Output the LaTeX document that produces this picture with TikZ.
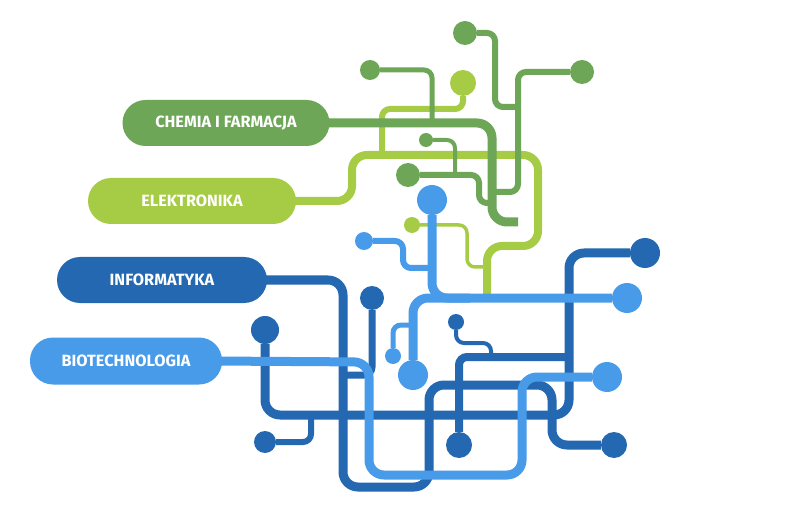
\documentclass[tikz,border=0pt]{standalone}
\usepackage{fontspec}
\setmainfont{Fira Sans}
\usetikzlibrary{positioning}
\definecolor{chemgreen}{HTML}{6DA656}
\definecolor{elekgreen}{HTML}{A6CB44}
\definecolor{infoblue}{HTML}{2468B2}
\definecolor{bioblue}{HTML}{479BE8}

\tikzset{
    field/.style={fill=#1, text=white, rounded corners=23pt,
        minimum height=46pt, inner sep=0pt,
        font=\fontsize{16.3}{16.3}\selectfont\bfseries},
    blob/.style={circle, fill=#1, inner sep=0pt},
    wire/.style={draw=#1, line width=9pt, rounded corners=15pt},
    fine/.style={line width=#1, rounded corners=8pt}
}

\begin{document}
\begin{tikzpicture}[x=1pt, y=-1pt]
    \useasboundingbox[fill=white] (0,0) rectangle (800,529);

    % fields
    \node[field=chemgreen, minimum width=207pt] (chem) at (226,123) {CHEMIA I FARMACJA};
    \node[field=elekgreen, minimum width=208pt] (elek) at (192,201) {ELEKTRONIKA};
    \node[field=infoblue, minimum width=210pt] (info) at (162,280) {INFORMATYKA};
    \node[field=bioblue, minimum width=192pt, minimum height=47pt] (bio) at (126,361) {BIOTECHNOLOGIA};

    % end points
    \node[blob=chemgreen, minimum size=20pt] (g1) at (370,70) {};
    \node[blob=chemgreen, minimum size=24pt] (g2) at (465,33) {};
    \node[blob=chemgreen, minimum size=24pt] (g3) at (582,72) {};
    \node[blob=chemgreen, minimum size=14pt] (g4) at (426,140) {};
    \node[blob=chemgreen, minimum size=24pt] (g5) at (408,175) {};
    \node[blob=elekgreen, minimum size=26pt] (l1) at (463,83) {};
    \node[blob=elekgreen, minimum size=16pt] (l2) at (412,225) {};
    \node[blob=infoblue, minimum size=24pt] (d1) at (372,298) {};
    \node[blob=infoblue, minimum size=28pt] (d2) at (265,330) {};
    \node[blob=infoblue, minimum size=22pt] (d3) at (265,442) {};
    \node[blob=infoblue, minimum size=26pt] (d4) at (459,445) {};
    \node[blob=infoblue, minimum size=16pt] (d5) at (456,322) {};
    \node[blob=infoblue, minimum size=30pt] (d6) at (645,253) {};
    \node[blob=infoblue, minimum size=26pt] (d7) at (614,445) {};
    \node[blob=bioblue, minimum size=30pt] (b1) at (432,200) {};
    \node[blob=bioblue, minimum size=18pt] (b2) at (364,241) {};
    \node[blob=bioblue, minimum size=16pt] (b3) at (393,356) {};
    \node[blob=bioblue, minimum size=30pt] (b4) at (413,375) {};
    \node[blob=bioblue, minimum size=30pt] (b5) at (627,298) {};
    \node[blob=bioblue, minimum size=30pt] (b6) at (607,377) {};

    % elektronika
    \draw[wire=elekgreen, line width=8pt] ([xshift=-10pt]elek.east) -- (352,201) -- (352,155)
        -- (538,155) -- (538,246) -- (487,246) -- (487,298);
    \draw[elekgreen, fine=6pt] (l1) -- (463,109) -- (382,109) -- (382,155);
    \draw[elekgreen, fine=3.5pt] (l2) -- (467,225) -- (467,267) -- (487,267);

    % chemia i farmacja
    \draw[wire=chemgreen] ([xshift=-10pt]chem.east) -- (492,123) -- (492,222) -- (518,222);
    \draw[chemgreen, fine=5pt] (g1) -- (432,70) -- (432,123);
    \draw[chemgreen, fine=6pt] (g2) -- (495,33) -- (495,107) -- (518,107);
    \draw[chemgreen, fine=6pt] (g3) -- (518,72) -- (518,192) -- (492,192);
    \draw[chemgreen, fine=4pt] (g4) -- (455,140) -- (455,175);
    \draw[chemgreen, fine=6pt] (g5) -- (479,175) -- (479,203) -- (492,203);

    % informatyka
    \draw[wire=infoblue] ([xshift=-10pt]info.east) -- (343,280) -- (343,487) -- (429,487)
        -- (429,385) -- (552,385) -- (552,445) -- (d7);
    \draw[infoblue, fine=7pt] (d1) -- (372,375) -- (343,375);
    \draw[wire=infoblue] (d2) -- (265,415) -- (569,415) -- (569,253) -- (d6);
    \draw[infoblue, fine=6pt] (d3) -- (311,442) -- (311,415);
    \draw[infoblue, fine=8pt] (d4) -- (459,357) -- (569,357);
    \draw[infoblue, fine=4pt] (d5) -- (456,343) -- (491,343) -- (491,357);

    % biotechnologia
    \draw[wire=bioblue] ([xshift=-10pt]bio.east) -- (369,362) -- (369,475) -- (522,475)
        -- (522,377) -- (b6);
    \draw[wire=bioblue] (b1) -- (432,298) -- (b5);
    \draw[wire=bioblue] (470,298) -- (413,298) -- (b4);
    \draw[bioblue, fine=6pt] (b2) -- (403,241) -- (403,268) -- (432,268);
    \draw[bioblue, fine=5pt] (b3) -- (393,325) -- (413,325);
\end{tikzpicture}
\end{document}
